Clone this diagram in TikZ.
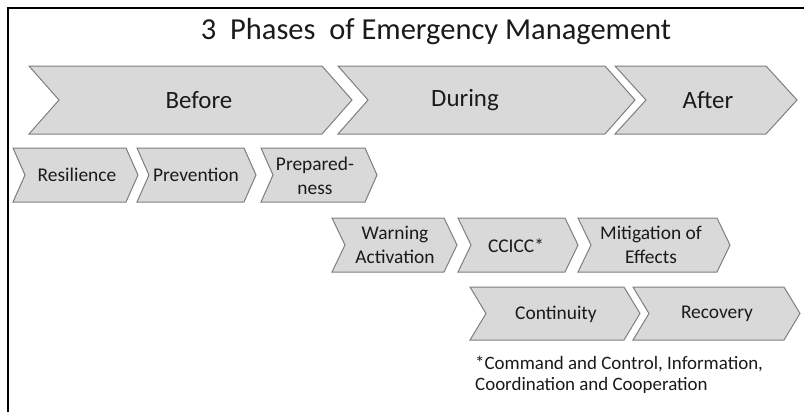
\documentclass[tikz,border=0pt]{standalone}
\usepackage{fontspec}
\setmainfont{Carlito}
\definecolor{chevfill}{HTML}{D9D9D9}
\definecolor{chevline}{HTML}{7F7F7F}
\definecolor{labeltext}{HTML}{1A1A1A}
% chevron outline: #1 left x, #2 tip x, #3 top y, #4 bottom y, #5 notch depth
\newcommand\chevronshape[5]{%
  \draw[chev] (#1,#3) -- ({#2-#5},#3) -- (#2,{(#3+#4)/2}) -- ({#2-#5},#4)
    -- (#1,#4) -- ({#1+#5},{(#3+#4)/2}) -- cycle;}
\begin{document}
\begin{tikzpicture}[x=1bp,y=-1bp,
  chev/.style={fill=chevfill, draw=chevline, line width=1bp, line join=miter},
  titlelabel/.style={font=\fontsize{30.6}{36}\selectfont, text=labeltext, inner sep=0pt},
  phaselabel/.style={font=\fontsize{25}{30}\selectfont, text=labeltext, inner sep=0pt},
  steplabel/.style={font=\fontsize{19.5}{24}\selectfont, text=labeltext, align=center, inner sep=0pt},
  notelabel/.style={font=\fontsize{19}{20.5}\selectfont, text=labeltext, align=left, inner sep=0pt, anchor=west},
  frameline/.style={line width=2bp, black}]
\useasboundingbox (0,0) rectangle (804,412);
\fill[white] (0,0) rectangle (804,412);

% partial frame: top and left rules
\draw[frameline] (804,8) -- (8,8) -- (8,412);

\node[titlelabel] (title) at (436,32) {3\ \ Phases\ \ of Emergency Management};

% the three phases
\chevronshape{29}{352}{66}{134}{30}
\chevronshape{338}{635}{66}{134}{30}
\chevronshape{615}{797}{66}{134}{31}
\node[phaselabel] (before) at (199,100) {Before};
\node[phaselabel] (during) at (465,100) {During};
\node[phaselabel] (after) at (708,100) {After};

% before: resilience, prevention, preparedness
\chevronshape{13}{138}{148}{202}{12}
\chevronshape{137}{256}{148}{202}{12}
\chevronshape{261}{377}{148}{202}{12}
\node[steplabel] (resilience) at (77,175) {Resilience};
\node[steplabel] (prevention) at (196,175) {Prevention};
\node[steplabel] (preparedness) at (315,176) {Prepared-\\ness};

% during: warning, CCICC, mitigation
\chevronshape{332}{457}{218}{272}{13}
\chevronshape{458}{578}{218}{272}{13}
\chevronshape{578}{730}{218}{272}{13}
\node[steplabel] (warning) at (395,245) {Warning\\Activation};
\node[steplabel] (ccicc) at (516,246) {CCICC*};
\node[steplabel] (mitigation) at (651,245) {Mitigation of\\Effects};

% after: continuity, recovery
\chevronshape{470}{640}{287}{340}{16}
\chevronshape{633}{800}{287}{340}{16}
\node[steplabel] (continuity) at (556,314) {Continuity};
\node[steplabel] (recovery) at (717,314) {Recovery};

\node[notelabel] (note) at (475,375) {*Command and Control, Information,\\Coordination and Cooperation};
\end{tikzpicture}
\end{document}
